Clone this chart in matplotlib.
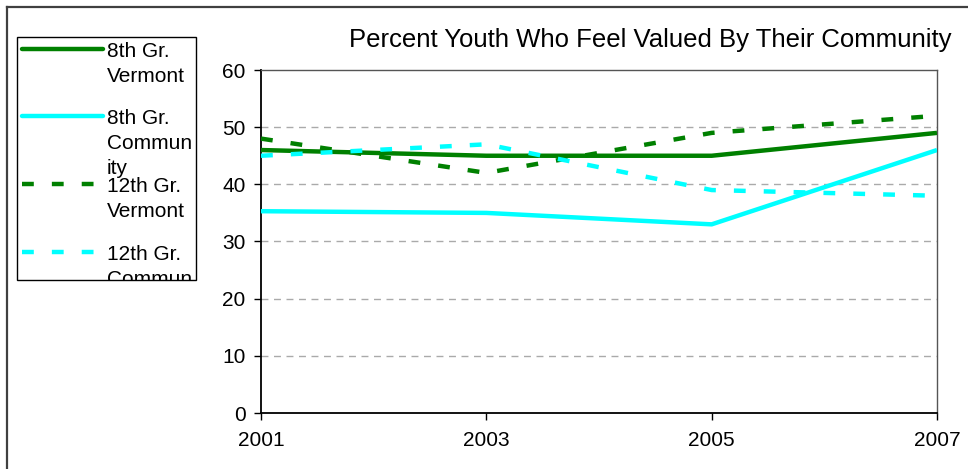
import matplotlib
matplotlib.use("Agg")
import matplotlib.pyplot as plt
from matplotlib.lines import Line2D
from matplotlib.patches import Rectangle

plt.rcParams['font.family'] = ['Liberation Sans', 'DejaVu Sans']
plt.rcParams['lines.scale_dashes'] = False

years = [2001, 2003, 2005, 2007]
year_labels = ["2001", "2003", "2005", "2007"]
vt8 = [46, 45, 45, 49]
com8 = [35.3, 35, 33, 46]
vt12 = [48, 42, 49, 52]
com12 = [45, 47, 39, 38]
series_names = ["8th Gr.\nVermont", "8th Gr.\nCommun\nity", "12th Gr.\nVermont", "12th Gr.\nCommun\nity"]
title = "Percent Youth Who Feel Valued By Their Community"
yticks = [0, 10, 20, 30, 40, 50, 60]

GREEN = "#008000"
CYAN = "#00FFFF"
DASH = (0, (8.5, 13))

W, H = 968, 469
fig = plt.figure(figsize=(W / 100, H / 100), dpi=100)

def fx(px):
    return px / W

def fy(py):
    return 1 - py / H

# outer border (top and left edges visible)
fig.lines.append(Line2D([fx(7), 1.05], [fy(7), fy(7)], transform=fig.transFigure,
                        color="#404040", linewidth=1.6))
fig.lines.append(Line2D([fx(7), fx(7)], [fy(7), -0.05], transform=fig.transFigure,
                        color="#404040", linewidth=1.6))

ax = fig.add_axes([fx(261), fy(413), (937 - 261) / W, (413 - 70) / H])
styles = [
    (vt8, GREEN, '-'),
    (com8, CYAN, '-'),
    (vt12, GREEN, DASH),
    (com12, CYAN, DASH),
]
for vals, col, ls in styles:
    ax.plot(years, vals, color=col, linestyle=ls, linewidth=3.2, solid_capstyle='butt',
            dash_capstyle='butt', zorder=3)

ax.set_xlim(2001, 2007)
ax.set_ylim(0, 60)
ax.set_xticks(years)
ax.set_xticklabels(year_labels)
ax.set_yticks(yticks)
for y in yticks[1:-1]:
    ax.axhline(y, color="#aaaaaa", linestyle=(0, (5, 4)), linewidth=1.0, zorder=1)
ax.tick_params(axis='both', direction='out', length=5, width=1, labelsize=15, color='black')
ax.tick_params(axis='x', pad=8)
ax.tick_params(axis='y', pad=6)
for s in ['left', 'bottom']:
    ax.spines[s].set_color('black')
    ax.spines[s].set_linewidth(1.3)
for s in ['top', 'right']:
    ax.spines[s].set_color('#555555')
    ax.spines[s].set_linewidth(1.0)

fig.text(fx(650), fy(40), title, ha='center', va='center', fontsize=18.5)

# manual legend, clipped to its box
lx0, ly0, lx1, ly1 = 17, 37, 196, 280
box = Rectangle((fx(lx0), fy(ly1)), (lx1 - lx0) / W, (ly1 - ly0) / H,
                transform=fig.transFigure, fill=False, edgecolor='black', linewidth=1.0)
fig.patches.append(box)
clip = Rectangle((fx(lx0), fy(ly1)), (lx1 - lx0) / W, (ly1 - ly0) / H,
                 transform=fig.transFigure, fill=False, edgecolor='none')
fig.patches.append(clip)
line_ys = [49, 116, 184, 252]
for (vals, col, ls), name, yy in zip(styles, series_names, line_ys):
    ln = Line2D([fx(22), fx(103)], [fy(yy), fy(yy)], transform=fig.transFigure,
                color=col, linestyle=ls, linewidth=3.2, solid_capstyle='round',
                dash_capstyle='butt')
    ln.set_clip_path(clip)
    fig.lines.append(ln)
    for i, part in enumerate(name.split("\n")):
        t = fig.text(fx(107), fy(yy + 8 + 25 * i), part, ha='left', va='baseline',
                     fontsize=15)
        t.set_clip_path(clip)

fig.savefig("out.png", dpi=100)
